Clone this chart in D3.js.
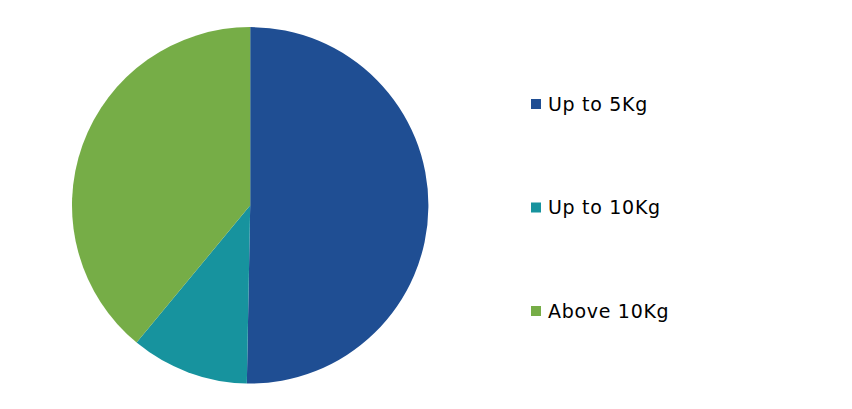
<!DOCTYPE html>
<html>
<head>
<meta charset="utf-8">
<script src="https://cdn.jsdelivr.net/npm/d3@7"></script>
<style>
  html, body { margin: 0; padding: 0; background: #fff; }
  svg { display: block; }
  .legend text { font-family: "DejaVu Sans", Verdana, sans-serif; font-size: 19px; letter-spacing: 0.7px; fill: #000; }
</style>
</head>
<body>
<div id="chart"></div>
<script>
// Share of shipments by weight band (in %)
const categories = ['Up to 5Kg', 'Up to 10Kg', 'Above 10Kg'];
const shares = [50.3, 10.7, 39.0];
const colors = ['#1f4e93', '#17939e', '#76ad47'];

const width = 852;
const height = 409;
const cx = 250.2, cy = 205.3, radius = 178.2;

const svg = d3.select('#chart').append('svg')
  .attr('width', width)
  .attr('height', height);

const data = categories.map((name, i) => ({ name, value: shares[i] }));

const color = d3.scaleOrdinal().domain(categories).range(colors);

const pie = d3.pie().sort(null).value((d) => d.value);
const arc = d3.arc().innerRadius(0).outerRadius(radius);

svg.append('g')
  .attr('transform', `translate(${cx},${cy})`)
  .selectAll('path')
  .data(pie(data))
  .join('path')
  .attr('d', arc)
  .attr('fill', (d) => color(d.data.name));

// legend: rows spaced evenly down the right side
const rowY = d3.scalePoint().domain(categories).range([104, 311]);

const legend = svg.append('g').attr('class', 'legend');
const rows = legend.selectAll('g')
  .data(categories)
  .join('g')
  .attr('transform', (d) => `translate(531,${rowY(d)})`);

rows.append('rect')
  .attr('x', 0)
  .attr('y', -5)
  .attr('width', 10)
  .attr('height', 10)
  .attr('fill', (d) => color(d));

rows.append('text')
  .attr('x', 17)
  .attr('y', 6.8)
  .text((d) => d);
</script>
</body>
</html>
